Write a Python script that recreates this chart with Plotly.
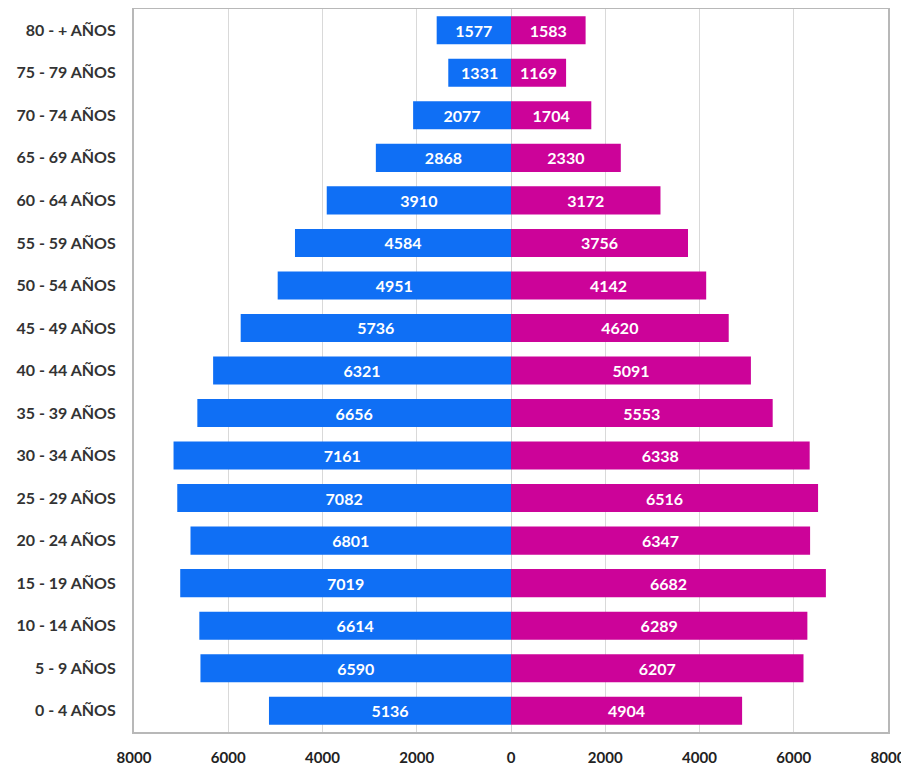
import plotly.graph_objects as go

categories = ["0 - 4 AÑOS", "5 - 9 AÑOS", "10 - 14 AÑOS", "15 - 19 AÑOS", "20 - 24 AÑOS",
              "25 - 29 AÑOS", "30 - 34 AÑOS", "35 - 39 AÑOS", "40 - 44 AÑOS", "45 - 49 AÑOS",
              "50 - 54 AÑOS", "55 - 59 AÑOS", "60 - 64 AÑOS", "65 - 69 AÑOS", "70 - 74 AÑOS",
              "75 - 79 AÑOS", "80 - + AÑOS"]
hombres = [5136, 6590, 6614, 7019, 6801, 7082, 7161, 6656, 6321, 5736, 4951, 4584, 3910, 2868, 2077, 1331, 1577]
mujeres = [4904, 6207, 6289, 6682, 6347, 6516, 6338, 5553, 5091, 4620, 4142, 3756, 3172, 2330, 1704, 1169, 1583]
tick_vals = [-8000, -6000, -4000, -2000, 0, 2000, 4000, 6000, 8000]
tick_text = ["8000", "6000", "4000", "2000", "0", "2000", "4000", "6000", "8000"]

FONT = "Lato"

fig = go.Figure()
fig.add_trace(go.Bar(
    y=categories, x=[-v for v in hombres], orientation="h", name="Hombres",
    marker=dict(color="#0f6ff5", line=dict(width=0)),
    text=[str(v) for v in hombres], textposition="inside", insidetextanchor="middle",
    textfont=dict(color="white", size=16, family=FONT, weight="bold"),
    width=0.66,
))
fig.add_trace(go.Bar(
    y=categories, x=mujeres, orientation="h", name="Mujeres",
    marker=dict(color="#cc0399", line=dict(width=0)),
    text=[str(v) for v in mujeres], textposition="inside", insidetextanchor="middle",
    textfont=dict(color="white", size=16, family=FONT, weight="bold"),
    width=0.66,
))

# page body has an 8px margin, so the figure is sized/offset to compensate
fig.update_layout(
    width=901, height=762,
    margin=dict(l=126, r=21, t=1, b=38),
    barmode="relative",
    showlegend=False,
    plot_bgcolor="white", paper_bgcolor="white",
    uniformtext=dict(minsize=8, mode="show"),
    xaxis=dict(
        range=[-8000, 8000], tickvals=tick_vals, ticktext=tick_text,
        showgrid=True, gridcolor="#d9d9d9", gridwidth=1,
        zeroline=True, zerolinecolor="#d0d0d0", zerolinewidth=1,
        showline=True, mirror=True, linecolor="#b8b8b8", linewidth=2,
        ticks="outside", ticklen=11, tickcolor="rgba(0,0,0,0)",
        tickfont=dict(size=15, family=FONT, color="#222", weight="bold"),
        automargin=False,
    ),
    yaxis=dict(
        categoryorder="array", categoryarray=categories,
        range=[-0.5, 16.5],
        showline=True, mirror=True, linecolor="#b8b8b8", linewidth=2,
        showgrid=False,
        ticks="outside", ticklen=13, tickcolor="rgba(0,0,0,0)",
        tickfont=dict(size=16, family=FONT, color="#333", weight="bold"),
        automargin=False,
    ),
)

fig.write_html("out.html")
